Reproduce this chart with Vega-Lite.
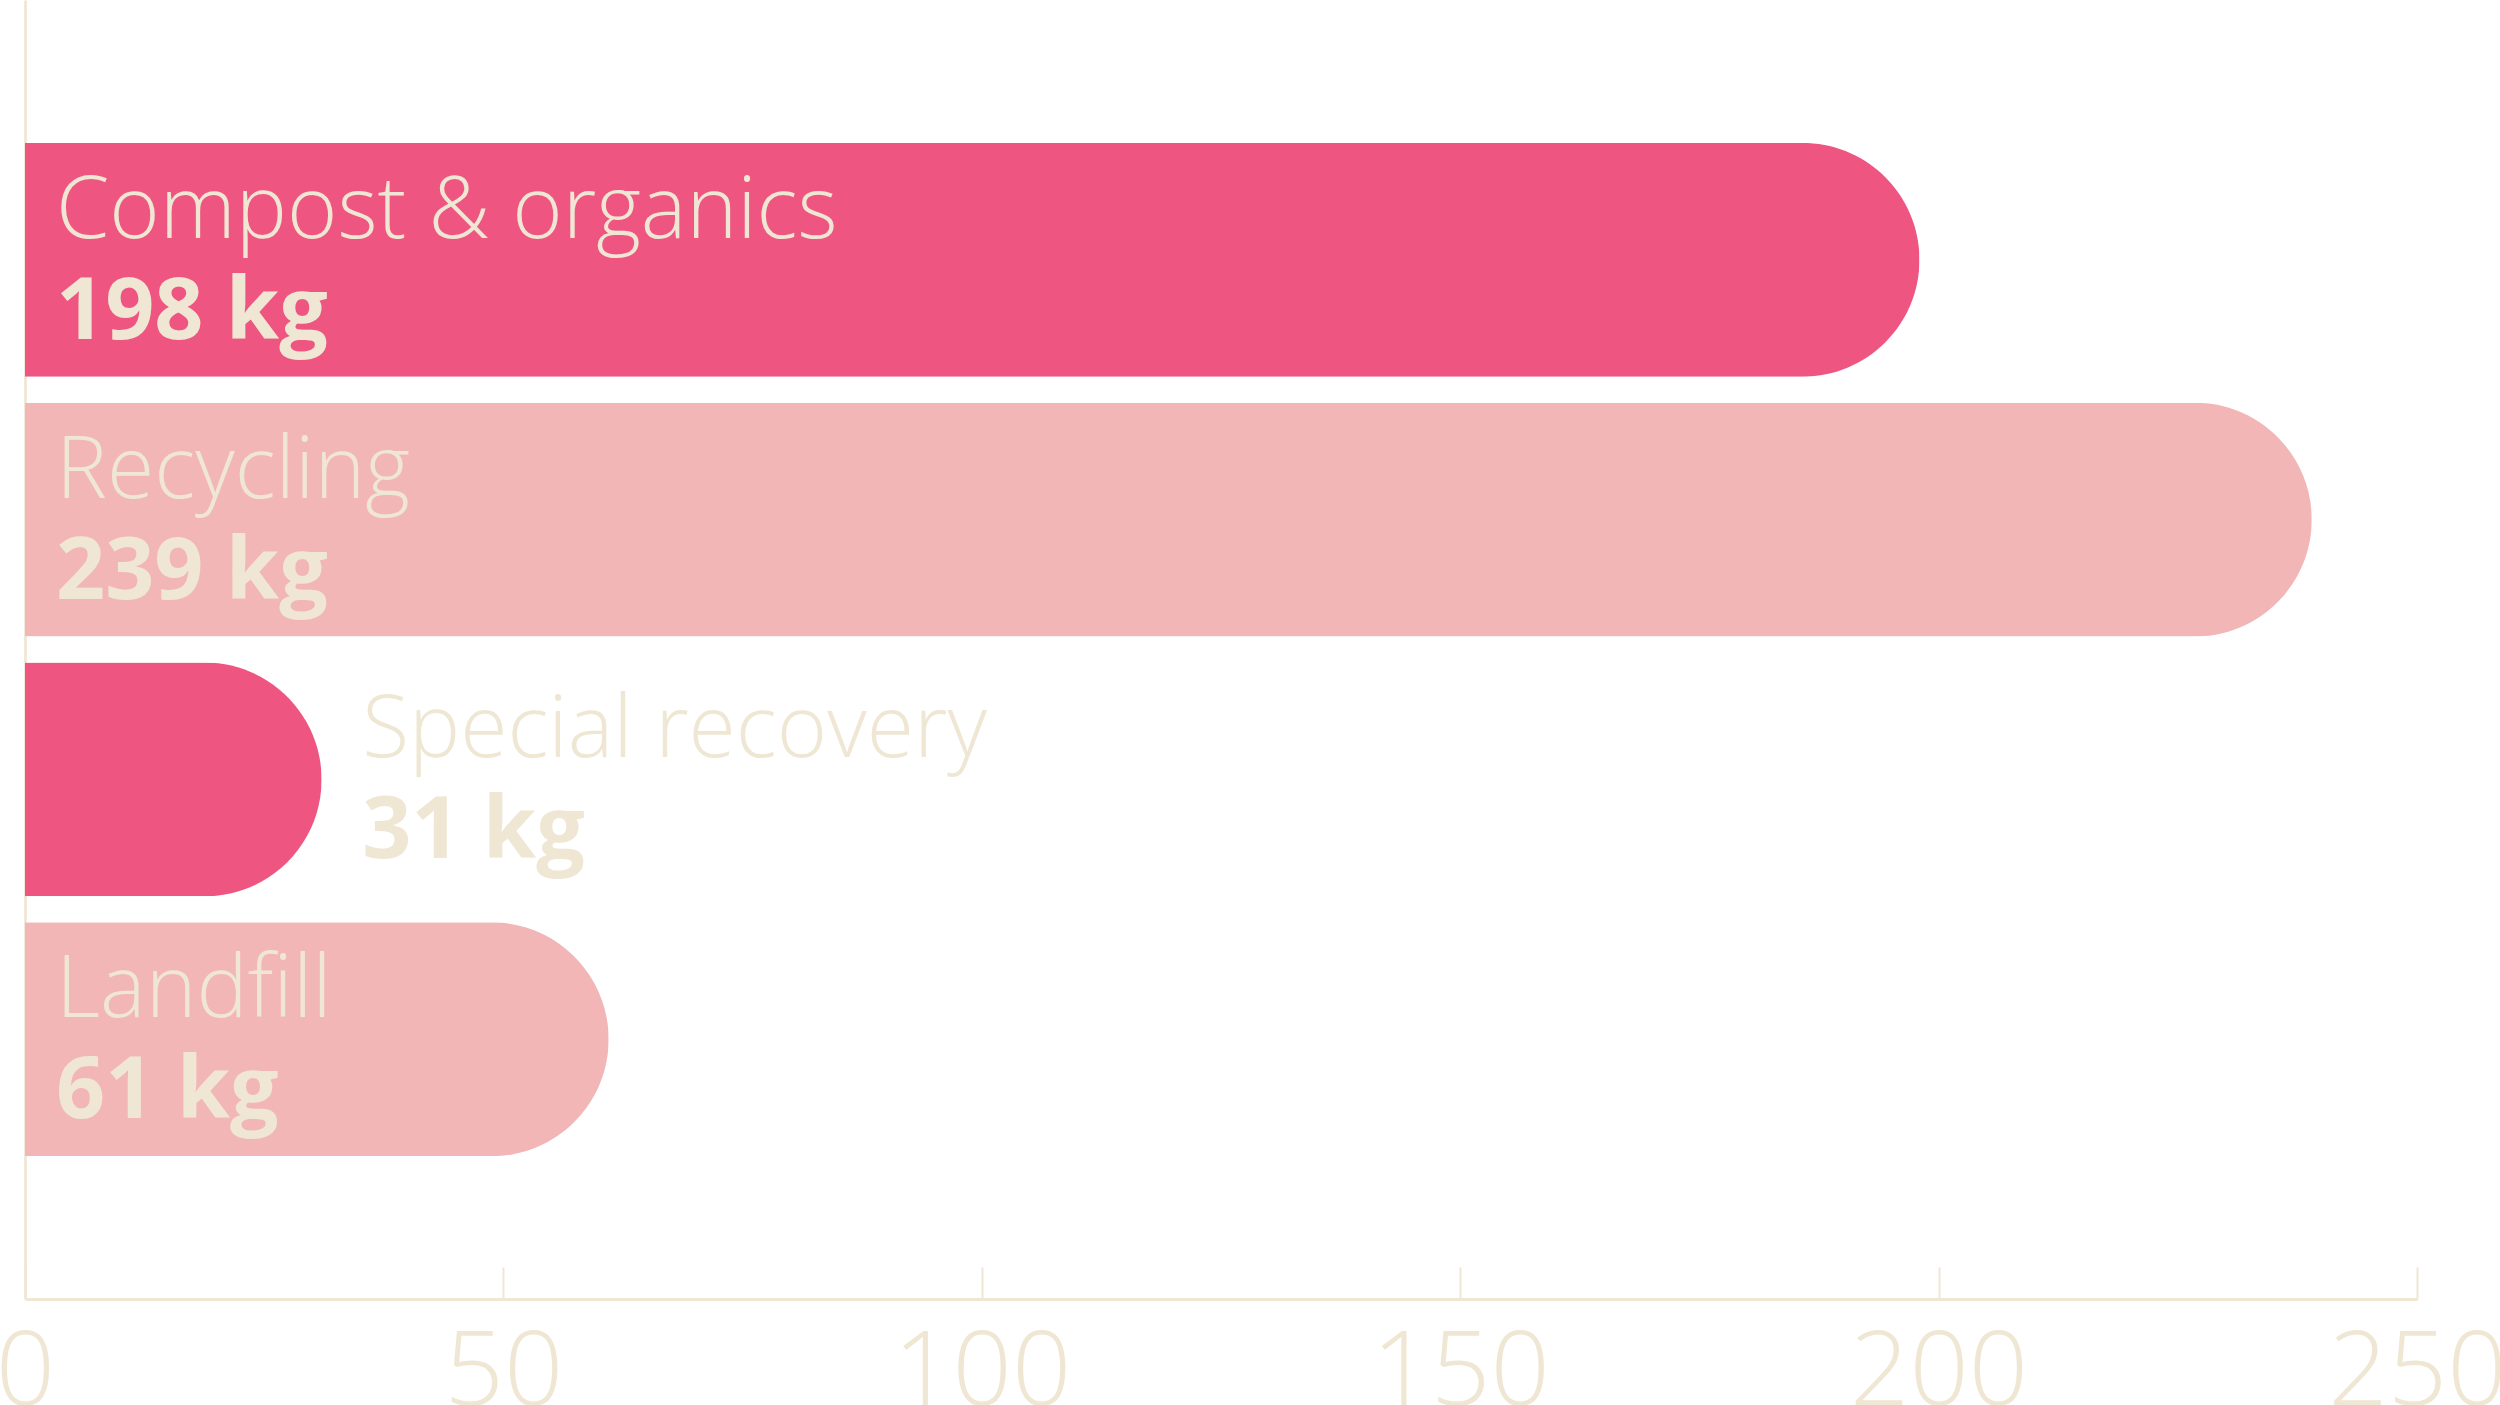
{
  "$schema": "https://vega.github.io/schema/vega-lite/v6.json",
  "autosize": "none",
  "padding": {"left": 25, "top": 0, "right": 83, "bottom": 106},
  "width": 2392,
  "height": 1299,
  "background": "white",
  "config": {
    "view": {"stroke": null},
    "font": "Open Sans"
  },
  "data": {
    "values": [
      {"stream": "Compost & organics", "kg": 198},
      {"stream": "Recycling", "kg": 239},
      {"stream": "Special recovery", "kg": 31},
      {"stream": "Landfill", "kg": 61}
    ]
  },
  "transform": [
    {"calculate": "datum.kg + ' kg'", "as": "kgText"},
    {"calculate": "datum.kg < 40 ? datum.kg + 1 : 0", "as": "labelAt"}
  ],
  "encoding": {
    "y": {
      "field": "stream",
      "type": "nominal",
      "sort": null,
      "scale": {"paddingInner": 0.1, "paddingOuter": 0.55},
      "axis": {
        "title": null,
        "labels": false,
        "ticks": false,
        "domainColor": "#EFE7D4",
        "domainWidth": 2.7
      }
    }
  },
  "layer": [
    {
      "mark": {"type": "bar", "cornerRadiusEnd": 117},
      "encoding": {
        "x": {
          "field": "kg",
          "type": "quantitative",
          "scale": {"domain": [0, 250], "nice": false},
          "axis": {
            "title": null,
            "values": [0, 50, 100, 150, 200, 250],
            "grid": false,
            "domainColor": "#EFE7D4",
            "domainWidth": 3,
            "tickColor": "#EFE7D4",
            "tickWidth": 2,
            "tickSize": -32,
            "labelColor": "#EFE7D4",
            "labelFont": "Open Sans",
            "labelFontWeight": 300,
            "labelFontSize": 104,
            "labelPadding": 55,
            "labelFlush": false,
            "labelOverlap": false
          }
        },
        "color": {
          "field": "stream",
          "type": "nominal",
          "scale": {
            "domain": ["Compost & organics", "Recycling", "Special recovery", "Landfill"],
            "range": ["#EE5681", "#F2B6B6", "#EE5681", "#F2B6B6"]
          },
          "legend": null
        }
      }
    },
    {
      "mark": {
        "type": "text",
        "align": "left",
        "baseline": "alphabetic",
        "dx": 31,
        "dy": -22,
        "fontSize": 86,
        "fontWeight": 350,
        "color": "#EFE7D4"
      },
      "encoding": {
        "x": {"field": "labelAt", "type": "quantitative"},
        "text": {"field": "stream"}
      }
    },
    {
      "mark": {
        "type": "text",
        "align": "left",
        "baseline": "alphabetic",
        "dx": 31,
        "dy": 79,
        "fontSize": 86,
        "fontWeight": 700,
        "color": "#EFE7D4"
      },
      "encoding": {
        "x": {"field": "labelAt", "type": "quantitative"},
        "text": {"field": "kgText"}
      }
    }
  ]
}
